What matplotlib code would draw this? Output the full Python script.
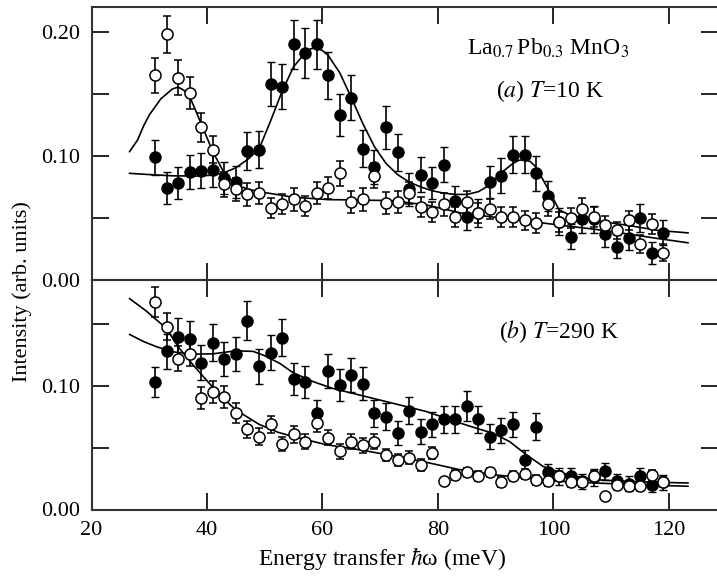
import numpy as np
import matplotlib
matplotlib.use("Agg")
import matplotlib.pyplot as plt
from matplotlib.ticker import MultipleLocator, FormatStrFormatter

plt.rcParams['font.family'] = ['Liberation Serif', 'DejaVu Serif']
plt.rcParams['mathtext.fontset'] = 'stix'

# ---------------- data ----------------
energy = list(range(31, 121, 2))  # meV

# (a) T = 10 K
a_filled = [0.099, 0.074, 0.078, 0.087, 0.088, 0.089, 0.082, 0.079, 0.104, 0.105,
            0.158, 0.156, 0.190, 0.183, 0.190, 0.165, 0.133, 0.147, 0.106, 0.091,
            0.123, 0.103, 0.073, 0.085, 0.078, 0.093, 0.064, 0.051, 0.054, 0.079,
            0.084, 0.101, 0.101, 0.086, 0.068, 0.047, 0.035, 0.049, 0.049, 0.037,
            0.027, 0.034, 0.050, 0.022, 0.038]
a_filled_err = [0.014, 0.013, 0.013, 0.014, 0.014, 0.014, 0.013, 0.013, 0.015, 0.015,
                0.018, 0.018, 0.020, 0.020, 0.020, 0.019, 0.017, 0.018, 0.015, 0.014,
                0.017, 0.015, 0.013, 0.014, 0.013, 0.014, 0.012, 0.011, 0.011, 0.013,
                0.014, 0.015, 0.015, 0.014, 0.012, 0.011, 0.010, 0.011, 0.011, 0.010,
                0.009, 0.010, 0.011, 0.009, 0.010]
a_open = [0.165, 0.198, 0.163, 0.151, 0.123, 0.105, 0.077, 0.073, 0.069, 0.070,
          0.058, 0.061, 0.065, 0.060, 0.070, 0.074, 0.086, 0.063, 0.065, 0.084,
          0.062, 0.063, 0.070, 0.059, 0.055, 0.061, 0.051, 0.063, 0.054, 0.057,
          0.051, 0.051, 0.048, 0.046, 0.061, 0.047, 0.050, 0.057, 0.051, 0.044,
          0.040, 0.048, 0.029, 0.045, 0.022]
a_open_err = [0.014, 0.015, 0.014, 0.013, 0.012, 0.011, 0.010, 0.009, 0.009, 0.009,
              0.008, 0.008, 0.009, 0.008, 0.009, 0.009, 0.010, 0.009, 0.009, 0.010,
              0.009, 0.009, 0.009, 0.008, 0.008, 0.009, 0.008, 0.009, 0.008, 0.008,
              0.008, 0.008, 0.008, 0.008, 0.009, 0.008, 0.008, 0.009, 0.008, 0.008,
              0.007, 0.008, 0.007, 0.008, 0.007]

# fitted curves (a)
fit_a_filled_x = [26.6, 30, 34, 38, 41, 43, 45, 47, 49, 51, 53, 55, 57, 58, 59, 60, 61, 63,
                  65, 67, 69, 71, 73, 75, 77, 79, 81, 83, 85, 87, 89, 91, 93, 94, 95, 96,
                  97, 99, 101, 103, 107, 113, 118, 123.3]
fit_a_filled_y = [0.086, 0.085, 0.084, 0.0838, 0.0845, 0.0865, 0.0905, 0.097, 0.1055, 0.128,
                  0.152, 0.172, 0.183, 0.1865, 0.187, 0.185, 0.181, 0.167, 0.147, 0.126,
                  0.1075, 0.094, 0.085, 0.079, 0.075, 0.072, 0.070, 0.069, 0.069, 0.0712,
                  0.0766, 0.0866, 0.094, 0.0965, 0.097, 0.0955, 0.091, 0.074, 0.0565, 0.052,
                  0.048, 0.044, 0.040, 0.038]
fit_a_open_x = [26.6, 28, 29, 30, 32, 34, 35, 36, 37, 39, 41, 43, 45, 47, 49, 52, 55, 61,
                66, 72, 78, 84, 90, 95, 101, 107, 113, 118, 123.3]
fit_a_open_y = [0.1035, 0.113, 0.124, 0.133, 0.146, 0.154, 0.1555, 0.153, 0.148, 0.126,
                0.1035, 0.086, 0.0766, 0.0735, 0.0712, 0.069, 0.0667, 0.0648, 0.0645, 0.064,
                0.0605, 0.054, 0.0505, 0.0478, 0.0443, 0.041, 0.037, 0.0335, 0.030]

# (b) T = 290 K
b_filled = [0.103, 0.128, 0.140, 0.138, 0.119, 0.135, 0.122, 0.126, 0.153, 0.116,
            0.127, 0.139, 0.106, 0.103, 0.078, 0.112, 0.101, 0.109, 0.102, 0.078,
            0.075, 0.062, 0.080, 0.063, 0.069, 0.073, 0.073, 0.084, 0.073, 0.059,
            0.064, 0.069, 0.040, 0.067, 0.030, 0.027, 0.027, 0.023, 0.026, 0.031,
            0.023, 0.021, 0.027, 0.020, 0.022]
b_filled_err = [0.012, 0.014, 0.015, 0.015, 0.014, 0.015, 0.014, 0.014, 0.016, 0.014,
                0.014, 0.015, 0.013, 0.013, 0.011, 0.014, 0.013, 0.014, 0.013, 0.011,
                0.011, 0.010, 0.011, 0.010, 0.010, 0.011, 0.011, 0.012, 0.011, 0.010,
                0.010, 0.010, 0.008, 0.011, 0.007, 0.007, 0.007, 0.006, 0.007, 0.007,
                0.006, 0.006, 0.007, 0.006, 0.006]
b_open = [0.168, 0.148, 0.122, 0.126, 0.090, 0.095, 0.091, 0.078, 0.065, 0.059,
          0.069, 0.053, 0.061, 0.055, 0.070, 0.058, 0.047, 0.055, 0.052, 0.055,
          0.044, 0.040, 0.042, 0.036, 0.046, 0.023, 0.028, 0.030, 0.027, 0.030,
          0.022, 0.027, 0.029, 0.024, 0.023, 0.027, 0.022, 0.022, 0.027, 0.011,
          0.020, 0.019, 0.019, 0.028, 0.022]
b_open_err = [0.012, 0.011, 0.010, 0.010, 0.009, 0.009, 0.009, 0.008, 0.007, 0.007,
              0.007, 0.006, 0.007, 0.006, 0.007, 0.006, 0.006, 0.006, 0.006, 0.006,
              0.005, 0.005, 0.005, 0.005, 0.005, 0.0, 0.004, 0.004, 0.004, 0.004,
              0.004, 0.004, 0.004, 0.004, 0.004, 0.004, 0.004, 0.004, 0.004, 0.0,
              0.004, 0.004, 0.004, 0.004, 0.004]

fit_b_filled_x = [26.6, 29, 31.3, 34, 37.6, 41, 45, 48, 50, 52.6, 54.9, 58.4, 61.8, 66.4,
                  72.2, 78, 83.8, 87.2, 89.5, 92.4, 95.3, 98.2, 101, 104, 107, 112.6, 118, 123.3]
fit_b_filled_y = [0.1417, 0.136, 0.1317, 0.1277, 0.1258, 0.126, 0.1285, 0.128, 0.1245, 0.1183,
                  0.1108, 0.1035, 0.098, 0.0927, 0.086, 0.0793, 0.070, 0.065, 0.0618, 0.055,
                  0.0444, 0.0349, 0.0301, 0.0265, 0.0242, 0.0228, 0.022, 0.0215]
fit_b_open_x = [26.6, 29.4, 33, 35, 37.6, 39.9, 42.2, 45, 49, 52.3, 54.9, 60.7, 66.4, 72.2,
                78, 83.7, 89.5, 95.3, 101, 107, 115, 123.3]
fit_b_open_y = [0.1707, 0.161, 0.1465, 0.1317, 0.117, 0.1048, 0.0927, 0.0806, 0.069, 0.0625,
                0.0591, 0.0524, 0.0484, 0.0435, 0.0382, 0.0323, 0.0282, 0.0255, 0.0228,
                0.0215, 0.020, 0.0188]

x_ticks = [20, 40, 60, 80, 100, 120]

# ---------------- figure ----------------
W, H = 717, 578
fig = plt.figure(figsize=(W / 100, H / 100), dpi=100)

left = 91.5 / W
right = 718.0 / W
ax_a = fig.add_axes([left, (H - 280) / H, right - left, (280 - 6.5) / H])
ax_b = fig.add_axes([left, (H - 509.5) / H, right - left, (509.5 - 280) / H])


def draw(ax, filled, ferr, opn, oerr, fx1, fy1, fx2, fy2):
    ax.plot(fx1, fy1, color='black', lw=1.2, zorder=1)
    ax.plot(fx2, fy2, color='black', lw=1.2, zorder=1)
    ax.errorbar(energy, filled, yerr=ferr, fmt='o', ms=8, mfc='black', mec='black',
                mew=1.0, ecolor='black', elinewidth=1.2, capsize=2.7, capthick=1.2, zorder=3)
    ax.errorbar(energy, opn, yerr=oerr, fmt='o', ms=8, mfc='white', mec='black',
                mew=1.1, ecolor='black', elinewidth=1.2, capsize=2.7, capthick=1.2, zorder=4)


draw(ax_a, a_filled, a_filled_err, a_open, a_open_err,
     fit_a_filled_x, fit_a_filled_y, fit_a_open_x, fit_a_open_y)
draw(ax_b, b_filled, b_filled_err, b_open, b_open_err,
     fit_b_filled_x, fit_b_filled_y, fit_b_open_x, fit_b_open_y)

ax_a.set_ylim(0, 0.2205)
ax_b.set_ylim(0, 0.1858)
for ax in (ax_a, ax_b):
    ax.set_xlim(20, 128.5)
    ax.set_xticks(x_ticks)
    ax.yaxis.set_major_locator(MultipleLocator(0.1))
    ax.yaxis.set_minor_locator(MultipleLocator(0.05))
    ax.yaxis.set_major_formatter(FormatStrFormatter('%.2f'))
    ax.tick_params(which='both', direction='in', length=12, width=1.2,
                   top=True, right=True, labelsize=16, pad=8, colors='black')
    for s in ax.spines.values():
        s.set_linewidth(1.5)
        s.set_color('#333333')
    ax.spines['right'].set_visible(False)
    ax.set_facecolor('none')

ax_a.tick_params(labelbottom=False)
ax_b.set_xticklabels([str(t) for t in x_ticks])

ax_a.text(85.1, 0.187, r'La$_{0.7}\,$Pb$_{0.3}$ MnO$_3$', fontsize=17, va='center', ha='left')
ax_a.text(90.1, 0.152, r'($a$) $T$=10 K', fontsize=17, va='center', ha='left')
ax_b.text(90.5, 0.1438, r'($b$) $T$=290 K', fontsize=17, va='center', ha='left')

fig.text(382 / W, (H - 559) / H, 'Energy transfer $\\hbar$\u03c9 (meV)', fontsize=17,
         ha='center', va='center')
fig.text(22 / W, (H - 291.5) / H, 'Intensity (arb. units)', fontsize=16,
         ha='center', va='center', rotation=90)

fig.savefig('out.png', dpi=100)
